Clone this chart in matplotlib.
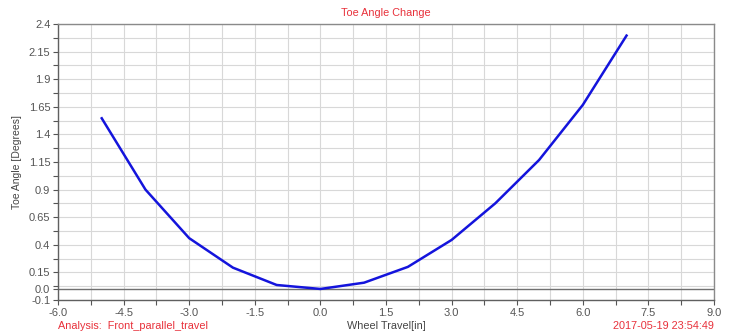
import numpy as np
import matplotlib
matplotlib.use("Agg")
import matplotlib.pyplot as plt

plt.rcParams['font.family'] = ['Liberation Sans', 'DejaVu Sans']

# wheel travel [in] vs toe angle [deg]
travel = [-5.0, -4.0, -3.0, -2.0, -1.0, 0.0, 1.0, 2.0, 3.0, 4.0, 5.0, 6.0, 7.0]
toe = [1.546, 0.9, 0.46, 0.193, 0.036, 0.0, 0.057, 0.2, 0.444, 0.776, 1.168, 1.667, 2.295]

xticks = np.arange(-6.0, 9.01, 1.5)
yticks = [-0.1, 0.0, 0.15, 0.4, 0.65, 0.9, 1.15, 1.4, 1.65, 1.9, 2.15, 2.4]
ytick_labels = ['-0.1', '0.0', '0.15', '0.4', '0.65', '0.9', '1.15', '1.4', '1.65', '1.9', '2.15', '2.4']

fig = plt.figure(figsize=(7.32, 3.34), dpi=100)
ax = fig.add_axes([58/732, 34/334, 656/732, 276/334])

# grid every 0.75 in x and 0.125 in y
for gx in np.arange(-6.0, 9.01, 0.75):
    ax.axvline(gx, color='#d8d8d8', lw=0.8, zorder=0)
for gy in np.arange(-0.1, 2.41, 0.125):
    ax.axhline(gy, color='#d8d8d8', lw=0.8, zorder=0)
ax.axhline(0.0, color='#707070', lw=1.0, zorder=1)

ax.plot(travel, toe, color='#1414dc', lw=1.8, zorder=3)

ax.set_xlim(-6.0, 9.0)
ax.set_ylim(-0.1, 2.4)
ax.set_xticks(xticks)
ax.set_xticklabels(['%.1f' % v for v in xticks])
ax.set_xticks(np.arange(-5.25, 9.0, 1.5), minor=True)
ax.set_yticks(yticks)
ax.set_yticklabels(ytick_labels)
ax.set_yticks(np.arange(0.025, 2.4, 0.25), minor=True)

ax.tick_params(axis='both', which='major', labelsize=8, labelcolor='#555555',
               color='#555555', length=3.5, width=0.8, direction='out', pad=2)
ax.tick_params(axis='both', which='minor', color='#555555', length=3.5, width=0.8,
               direction='out')

for side in ['left', 'bottom']:
    ax.spines[side].set_color('#606060')
    ax.spines[side].set_linewidth(1.0)
for side in ['top', 'right']:
    ax.spines[side].set_color('#8a8a8a')
    ax.spines[side].set_linewidth(1.0)

ax.set_ylabel('Toe Angle [Degrees]', fontsize=7.5, color='#444444', labelpad=5)

fig.text(386/732, 1 - 13/334, 'Toe Angle Change', ha='center', va='center',
         fontsize=7.8, color='#e8303a')
fig.text(386/732, 1 - 326/334, 'Wheel Travel[in]', ha='center', va='center',
         fontsize=7.8, color='#444444')
fig.text(58/732, 1 - 326/334, 'Analysis:  Front_parallel_travel', ha='left', va='center',
         fontsize=7.8, color='#e8303a')
fig.text(714/732, 1 - 326/334, '2017-05-19 23:54:49', ha='right', va='center',
         fontsize=7.8, color='#e8303a')

fig.savefig('out.png', dpi=100, facecolor='white')
